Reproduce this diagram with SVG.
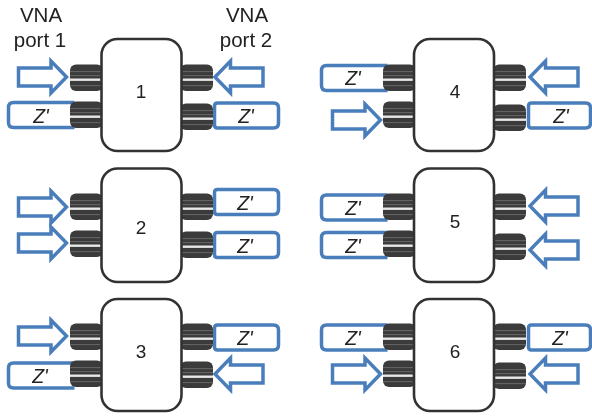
<svg xmlns="http://www.w3.org/2000/svg" xmlns:xlink="http://www.w3.org/1999/xlink" width="592" height="419" viewBox="0 0 592 419">
<style>
text{font-family:"Liberation Sans",Arial,sans-serif;fill:#222}
.lab{font-size:20.500px;text-anchor:middle}
.num{font-size:19px;text-anchor:middle}
.z{font-size:19.500px;font-style:italic;text-anchor:middle}
.body{fill:#fff;stroke:#333;stroke-width:2.6}
.term{fill:#fff;stroke:#4a7ebb;stroke-width:3.5;stroke-linejoin:round}
.arrow{fill:#fff;stroke:#4a7ebb;stroke-width:3.5;stroke-linejoin:miter}
</style>
<defs>
<filter id="soft" x="-5%" y="-5%" width="110%" height="110%"><feGaussianBlur stdDeviation="0.45"/></filter>
<g id="jack">
<rect x="-1" y="-13.500" width="33" height="26.500" rx="6" fill="#3a3a3a"/>
<rect x="-1" y="-7" width="33" height="1.200" fill="#626262"/>
<rect x="-1" y="-3" width="33" height="1.200" fill="#626262"/>
<rect x="-1" y="0.500" width="33" height="2.400" fill="#e8e8e8"/>
<rect x="-1" y="7" width="33" height="1.200" fill="#626262"/>
</g>
<path id="ar" class="arrow" d="M0-9H32.500V-16L48 0L32.500 16V9H0Z"/>
<path id="al" class="arrow" d="M48-9H15.500V-16L0 0L15.500 16V9H48Z"/>
<path id="tl" class="term" d="M66-12.500H5Q0-12.500 0-7.500V7.500Q0 12.500 5 12.500H66"/>
<path id="tr" class="term" d="M3-12.500H59Q64-12.500 64-7.500V7.500Q64 12.500 59 12.500H3Q0 12.500 0 9.500V-9.500Q0-12.500 3-12.500Z"/>
<path id="tq" class="term" d="M3-12.500H57Q62-12.500 62-7.500V7.500Q62 12.500 57 12.500H3Q0 12.500 0 9.500V-9.500Q0-12.500 3-12.500Z"/>
</defs>
<g filter="url(#soft)">
<g id="labels">
<text class="lab" x="41" y="22">VNA</text>
<text class="lab" x="40" y="47">port 1</text>
<text class="lab" x="247" y="22">VNA</text>
<text class="lab" x="246" y="47">port 2</text>
</g>
<g id="terminations">
<g id="z-1a"><use xlink:href="#tl" href="#tl" x="8.500" y="115"/><text class="z" x="41" y="123">Z'</text></g>
<g id="z-1b"><use xlink:href="#tr" href="#tr" x="214.500" y="115.500"/><text class="z" x="246" y="123">Z'</text></g>
<g id="z-2a"><use xlink:href="#tr" href="#tr" x="214.500" y="202"/><text class="z" x="245" y="210">Z'</text></g>
<g id="z-2b"><use xlink:href="#tr" href="#tr" x="214.500" y="245"/><text class="z" x="245" y="253">Z'</text></g>
<g id="z-3a"><use xlink:href="#tr" href="#tr" x="214.500" y="337.500"/><text class="z" x="245" y="345">Z'</text></g>
<g id="z-3b"><use xlink:href="#tl" href="#tl" x="8.500" y="375.500"/><text class="z" x="40" y="383">Z'</text></g>
<g id="z-4a"><use xlink:href="#tl" href="#tl" x="321.500" y="78"/><text class="z" x="353" y="85">Z'</text></g>
<g id="z-4b"><use xlink:href="#tq" href="#tq" x="528.500" y="115.500"/><text class="z" x="561" y="123">Z'</text></g>
<g id="z-5a"><use xlink:href="#tl" href="#tl" x="321.500" y="207.500"/><text class="z" x="353" y="215">Z'</text></g>
<g id="z-5b"><use xlink:href="#tl" href="#tl" x="321.500" y="245"/><text class="z" x="353" y="253">Z'</text></g>
<g id="z-6a"><use xlink:href="#tl" href="#tl" x="321.500" y="337.500"/><text class="z" x="353" y="345">Z'</text></g>
<g id="z-6b"><use xlink:href="#tq" href="#tq" x="528.500" y="337.500"/><text class="z" x="560" y="345">Z'</text></g>
</g>
<g id="device-1">
<use xlink:href="#jack" href="#jack" x="71" y="78"/><use xlink:href="#jack" href="#jack" x="71" y="115"/><use xlink:href="#jack" href="#jack" x="181" y="78"/><use xlink:href="#jack" href="#jack" x="181" y="117"/>
<rect class="body" x="101.500" y="39" width="80" height="112" rx="16"/><text class="num" x="141" y="98">1</text>
</g>
<g id="device-2">
<use xlink:href="#jack" href="#jack" x="71" y="207"/><use xlink:href="#jack" href="#jack" x="71" y="244"/><use xlink:href="#jack" href="#jack" x="181" y="207"/><use xlink:href="#jack" href="#jack" x="181" y="245"/>
<rect class="body" x="101.500" y="168.500" width="80" height="113.500" rx="16"/><text class="num" x="141" y="234">2</text>
</g>
<g id="device-3">
<use xlink:href="#jack" href="#jack" x="71" y="337"/><use xlink:href="#jack" href="#jack" x="71" y="374"/><use xlink:href="#jack" href="#jack" x="181" y="337"/><use xlink:href="#jack" href="#jack" x="181" y="375"/>
<rect class="body" x="101.500" y="299" width="80" height="112" rx="16"/><text class="num" x="141" y="358">3</text>
</g>
<g id="device-4">
<use xlink:href="#jack" href="#jack" x="384" y="78"/><use xlink:href="#jack" href="#jack" x="384" y="115"/><use xlink:href="#jack" href="#jack" x="494" y="78"/><use xlink:href="#jack" href="#jack" x="494" y="118"/>
<rect class="body" x="414" y="39" width="80" height="112" rx="16"/><text class="num" x="455" y="98">4</text>
</g>
<g id="device-5">
<use xlink:href="#jack" href="#jack" x="384" y="207"/><use xlink:href="#jack" href="#jack" x="384" y="244"/><use xlink:href="#jack" href="#jack" x="494" y="207"/><use xlink:href="#jack" href="#jack" x="494" y="247"/>
<rect class="body" x="414" y="168.500" width="80" height="113.500" rx="16"/><text class="num" x="455" y="228">5</text>
</g>
<g id="device-6">
<use xlink:href="#jack" href="#jack" x="384" y="337"/><use xlink:href="#jack" href="#jack" x="384" y="374"/><use xlink:href="#jack" href="#jack" x="494" y="337"/><use xlink:href="#jack" href="#jack" x="494" y="376"/>
<rect class="body" x="414" y="299" width="80" height="112" rx="16"/><text class="num" x="455" y="358">6</text>
</g>
<g id="connectors">
<use xlink:href="#ar" href="#ar" x="18.500" y="77"/>
<use xlink:href="#al" href="#al" x="215" y="77"/>
<use xlink:href="#ar" href="#ar" x="18.500" y="207"/>
<use xlink:href="#ar" href="#ar" x="18.500" y="243"/>
<use xlink:href="#ar" href="#ar" x="18.500" y="336"/>
<use xlink:href="#al" href="#al" x="215" y="374"/>
<use xlink:href="#al" href="#al" x="530" y="77"/>
<use xlink:href="#ar" href="#ar" x="332.500" y="120"/>
<use xlink:href="#al" href="#al" x="530" y="206"/>
<use xlink:href="#al" href="#al" x="530" y="250"/>
<use xlink:href="#ar" href="#ar" x="332.500" y="374"/>
<use xlink:href="#al" href="#al" x="530" y="374"/>
</g>
</g>
</svg>
